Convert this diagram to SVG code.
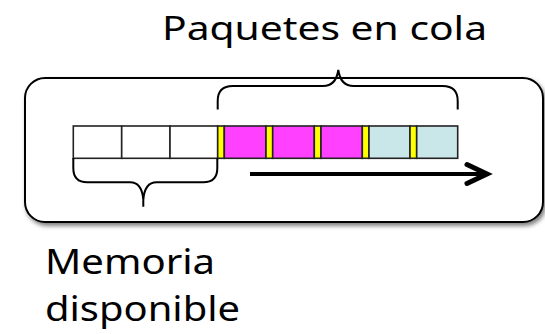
<svg xmlns="http://www.w3.org/2000/svg" width="545" height="334" viewBox="0 0 545 334">
<defs>
<filter id="sh" x="-5%" y="-10%" width="115%" height="130%">
<feDropShadow dx="2" dy="3" stdDeviation="2" flood-color="#000" flood-opacity="0.5"/>
</filter>
<style>
.lbl{font-family:"Comic Sans MS","Noto Sans",sans-serif;fill:#000}
.cell{stroke:#222;stroke-width:1.6}
.free{fill:#fff}
.sep{fill:#ffff00}
.pk{fill:#ff40ff}
.lb{fill:#c9e6e8}
.brace{fill:none;stroke:#000;stroke-width:2}
</style>
</defs>
<g id="buffer">
<rect x="25" y="78" width="518" height="144" rx="20" ry="20" fill="#fff" stroke="#000" stroke-width="2" filter="url(#sh)"/>
</g>
<g id="cells">
<rect class="cell free" x="73.3" y="126" width="48.4" height="32.3"/>
<rect class="cell free" x="121.7" y="126" width="48.3" height="32.3"/>
<rect class="cell free" x="170" y="126" width="47.7" height="32.3"/>
<rect class="cell sep" x="217.7" y="126" width="6.6" height="32.3"/>
<rect class="cell pk" x="224.3" y="126" width="41.7" height="32.3"/>
<rect class="cell sep" x="266" y="126" width="6.7" height="32.3"/>
<rect class="cell pk" x="272.7" y="126" width="41.6" height="32.3"/>
<rect class="cell sep" x="314.3" y="126" width="6.7" height="32.3"/>
<rect class="cell pk" x="321" y="126" width="41.3" height="32.3"/>
<rect class="cell sep" x="362.3" y="126" width="6.7" height="32.3"/>
<rect class="cell lb" x="369" y="126" width="41" height="32.3" fill="#cfe9eb"/>
<rect class="cell sep" x="410" y="126" width="6.7" height="32.3"/>
<rect class="cell lb" x="416.7" y="126" width="41" height="32.3" fill="#c4e3e6"/>
</g>
<g id="connectors">
<path class="brace" d="M217.7 109.5 L217.7 101 Q217.7 86 232.7 86 L323 86 Q336 86 338.3 70 Q340.6 86 353.6 86 L442.7 86 Q457.7 86 457.7 101 L457.7 109.5"/>
<path class="brace" d="M73.3 158 L73.3 168 Q73.3 182.3 87.3 182.3 L130 182.3 Q142 182.3 143.3 200 L143.3 206.7 M143.3 200 Q144.6 182.3 156.6 182.3 L203.3 182.3 Q217.3 182.3 217.3 168 L217.3 158"/>
<line x1="250" y1="174" x2="486" y2="174" stroke="#000" stroke-width="4"/>
<polyline points="467,164.5 487,174 467,183.5" fill="none" stroke="#000" stroke-width="5" stroke-linecap="round" stroke-linejoin="miter"/>
</g>
<g id="labels">
<text class="lbl" x="162" y="40" font-size="33" textLength="325" lengthAdjust="spacingAndGlyphs">Paquetes en cola</text>
<text class="lbl" x="45" y="274" font-size="35" textLength="170" lengthAdjust="spacingAndGlyphs">Memoria</text>
<text class="lbl" x="45" y="321" font-size="35" textLength="195" lengthAdjust="spacingAndGlyphs">disponible</text>
</g>
</svg>
